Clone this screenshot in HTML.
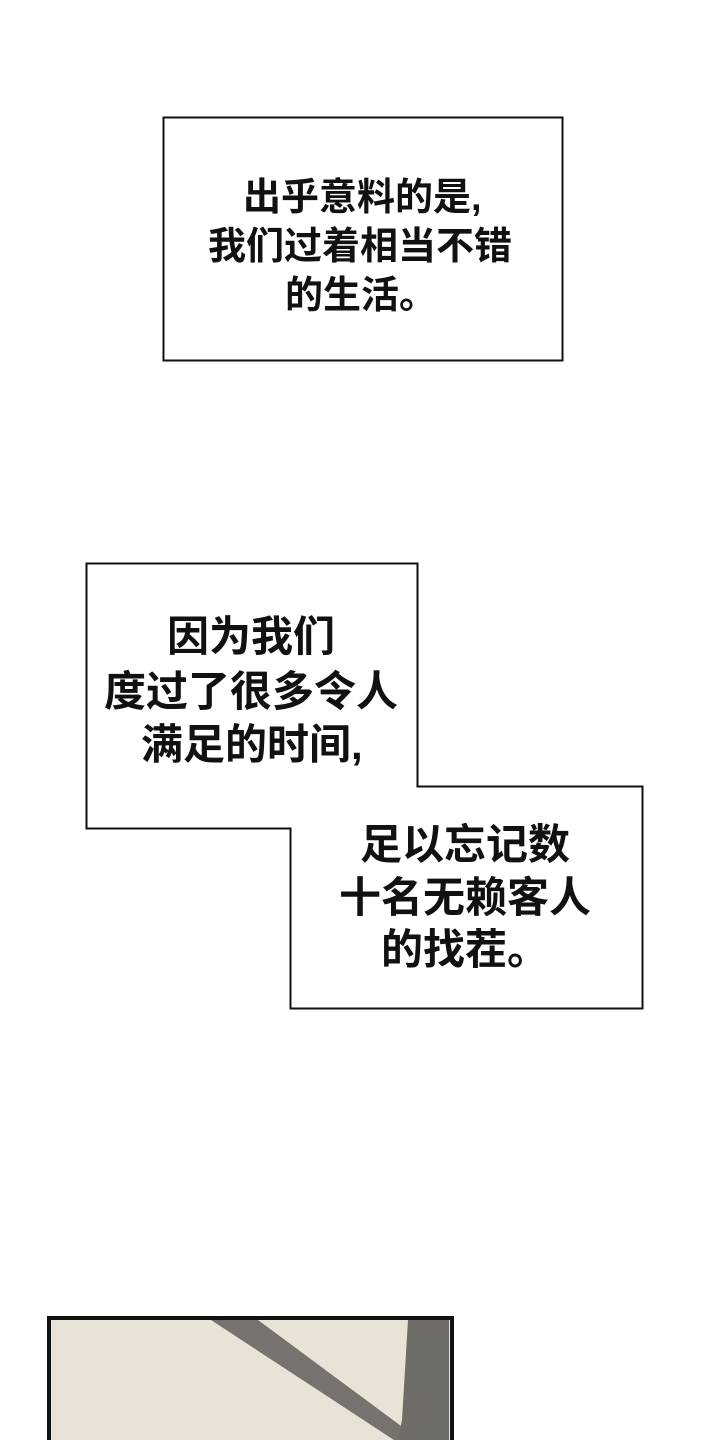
<!DOCTYPE html>
<html><head><meta charset="utf-8"><style>
body{margin:0;width:720px;height:1440px;background:#fff;position:relative;overflow:hidden}
.t{position:absolute;font-family:"Liberation Sans","Noto Sans CJK SC",sans-serif;font-weight:700;font-size:38px;line-height:42px;color:#111;white-space:nowrap;letter-spacing:0}
.b{font-size:42px;line-height:42px}
</style></head><body>
<svg width="720" height="1440" style="position:absolute;left:0;top:0">
<rect x="163.5" y="117.5" width="399" height="243" fill="#fff" stroke="#111" stroke-width="2"/>
<polygon points="86.5,563.5 417.5,563.5 417.5,786.5 642.5,786.5 642.5,1008.5 290.5,1008.5 290.5,828.5 86.5,828.5" fill="#fff" stroke="#111" stroke-width="2"/>
<rect x="49" y="1318" width="403" height="130" fill="#e9e3d7" stroke="#111" stroke-width="4"/>
<polygon points="211,1320 258,1320 420,1440 394,1440" fill="#77726d"/>
<polygon points="408,1320 449,1320 449,1440 398,1440 402,1420" fill="#6f6b67"/>
</svg>
<div class="t" style="left:243px;top:177px">出乎意料的是,</div>
<div class="t" style="left:208px;top:226px">我们过着相当不错</div>
<div class="t" style="left:285px;top:275px">的生活。</div>
<div class="t b" style="left:167px;top:616px">因为我们</div>
<div class="t b" style="left:104px;top:671px">度过了很多令人</div>
<div class="t b" style="left:141px;top:724px">满足的时间,</div>
<div class="t b" style="left:360px;top:824px">足以忘记数</div>
<div class="t b" style="left:339px;top:877px">十名无赖客人</div>
<div class="t b" style="left:381px;top:929px">的找茬。</div>
</body></html>
